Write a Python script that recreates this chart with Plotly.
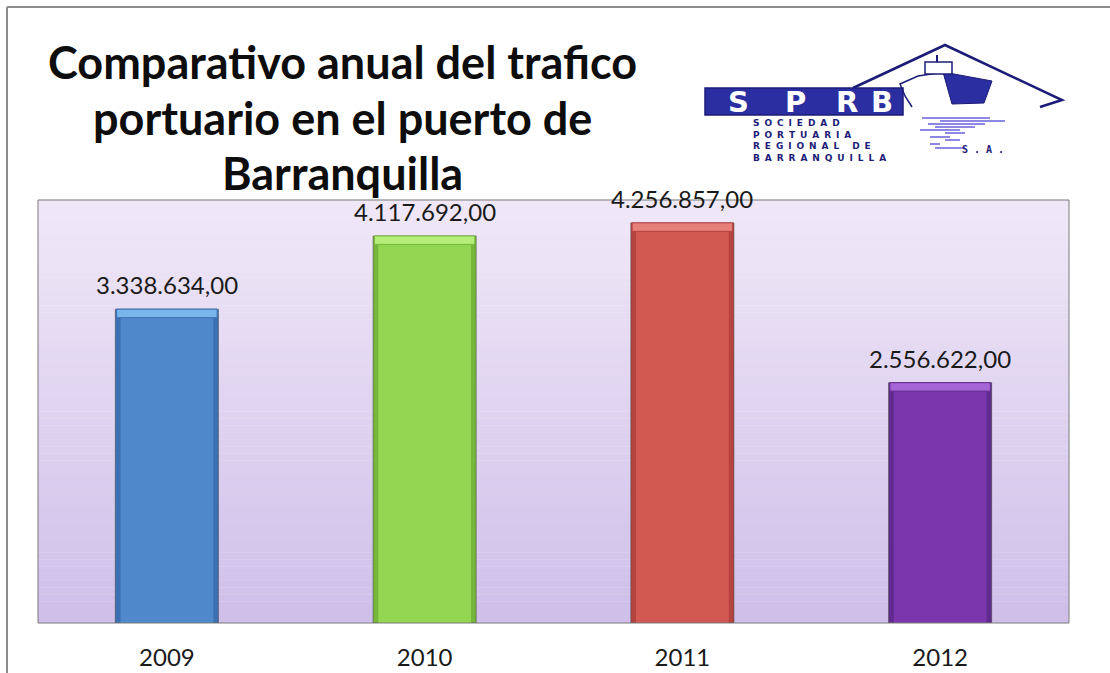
import plotly.graph_objects as go

# ---- data ----
years = ["2009", "2010", "2011", "2012"]
toneladas = [3338634.00, 4117692.00, 4256857.00, 2556622.00]

title_lines = ["Comparativo anual del trafico", "portuario en el puerto de", "Barranquilla"]
logo_lines = ["SOCIEDAD", "PORTUARIA", "REGIONAL DE", "BARRANQUILLA"]

# ---- styling ----
W, H = 1110, 673
edge_colors = ["#3d70b2", "#76b63a", "#b5433f", "#612a8e"]
main_colors = ["#4f89cc", "#93d651", "#d25852", "#7b36ad"]
cap_colors = ["#79b6ee", "#b6ee7c", "#e8807a", "#a565d6"]
y_max = 4.5e6
cap_h = 0.02 * y_max

# plot area in pixels
PX0, PX1, PY0, PY1 = 38, 1069, 200, 623


def fx(x):
    return x / W


def fy(y):
    return 1 - y / H


def fmt_es(v):
    s = f"{v:,.2f}"
    return s.replace(",", "X").replace(".", ",").replace("X", ".")


def mix(c1, c2, t):
    a = [int(c1[i:i + 2], 16) for i in (1, 3, 5)]
    b = [int(c2[i:i + 2], 16) for i in (1, 3, 5)]
    return "rgb({},{},{})".format(*[round(a[k] + (b[k] - a[k]) * t) for k in range(3)])


fig = go.Figure()

# outer edge layer of each bar
fig.add_trace(go.Bar(
    x=years, y=toneladas, width=0.40,
    marker=dict(color=edge_colors, line=dict(color="rgba(60,60,60,0.5)", width=1)),
    hoverinfo="skip", showlegend=False,
))
# inner body
fig.add_trace(go.Bar(
    x=years, y=[v - cap_h for v in toneladas], width=0.36,
    marker=dict(color=main_colors, line=dict(width=0)),
    hoverinfo="skip", showlegend=False,
))
# glossy top cap
fig.add_trace(go.Bar(
    x=years, y=[cap_h] * len(toneladas), base=[v - cap_h for v in toneladas], width=0.39,
    marker=dict(color=cap_colors, line=dict(color=edge_colors, width=1)),
    hoverinfo="skip", showlegend=False,
))

shapes = []
# vertical gradient for the plot background
n = 60
for i in range(n):
    y0 = PY0 + (PY1 - PY0) * i / n
    y1 = PY0 + (PY1 - PY0) * (i + 1) / n
    shapes.append(dict(type="rect", xref="paper", yref="paper",
                       x0=fx(PX0), x1=fx(PX1), y0=fy(y1), y1=fy(y0) + 0.0005,
                       fillcolor=mix("#f0e8f7", "#cfbfe9", i / (n - 1)),
                       line=dict(width=0), layer="below"))
# plot area border
shapes.append(dict(type="rect", xref="paper", yref="paper",
                   x0=fx(PX0), x1=fx(PX1), y0=fy(PY1), y1=fy(PY0),
                   line=dict(color="#7a7a7a", width=1), layer="above"))
# outer frame (top and left)
shapes.append(dict(type="line", xref="paper", yref="paper",
                   x0=fx(7), x1=1, y0=fy(7), y1=fy(7),
                   line=dict(color="#8c8c8c", width=2)))
shapes.append(dict(type="line", xref="paper", yref="paper",
                   x0=fx(7), x1=fx(7), y0=fy(7), y1=0,
                   line=dict(color="#8c8c8c", width=2)))


def path(points, close=False):
    s = "M " + " L ".join(f"{fx(x)},{fy(y)}" for x, y in points)
    return s + (" Z" if close else "")


navy = "#1c1c78"
logo_blue = "#2a2ea0"
wave = "#8d88e4"

# logo: triangle roof
shapes.append(dict(type="path", xref="paper", yref="paper",
                   path=path([(853, 88), (945, 45), (1062, 100), (1040, 107)]),
                   line=dict(color=navy, width=2.5)))
# logo: blue band behind the letters
shapes.append(dict(type="rect", xref="paper", yref="paper",
                   x0=fx(705), x1=fx(903), y0=fy(115), y1=fy(88),
                   fillcolor=logo_blue, line=dict(color=navy, width=1.5)))
# logo: ship bow outline
shapes.append(dict(type="path", xref="paper", yref="paper",
                   path=path([(945, 72), (918, 76), (900, 84), (905, 96), (912, 107)]),
                   line=dict(color=navy, width=1.5)))
# logo: hull
shapes.append(dict(type="path", xref="paper", yref="paper",
                   path=path([(943, 72), (992, 81), (984, 103), (952, 104), (948, 90)], close=True),
                   fillcolor=logo_blue, line=dict(color=navy, width=1)))
# logo: mast / bridge
shapes.append(dict(type="rect", xref="paper", yref="paper",
                   x0=fx(925), x1=fx(952), y0=fy(74), y1=fy(62),
                   fillcolor="white", line=dict(color=navy, width=1.5)))
shapes.append(dict(type="line", xref="paper", yref="paper",
                   x0=fx(937), x1=fx(937), y0=fy(62), y1=fy(55),
                   line=dict(color=navy, width=2)))
# logo: water lines
waves = [(862, 118, 990), (880, 121, 1005), (868, 124, 985), (875, 127, 975),
         (860, 130, 960), (885, 133, 965), (870, 137, 950), (900, 140, 945),
         (880, 144, 930), (905, 148, 935)]
for x0, y, x1 in waves:
    shapes.append(dict(type="line", xref="paper", yref="paper",
                       x0=fx(x0 + 60), x1=fx(x1), y0=fy(y), y1=fy(y),
                       line=dict(color=wave, width=2)))

annotations = []
# title
for line, yc in zip(title_lines, [62, 118, 173]):
    annotations.append(dict(text=f"<b>{line}</b>", xref="paper", yref="paper",
                            x=fx(342), y=fy(yc), xanchor="center", yanchor="middle",
                            showarrow=False, borderpad=0,
                            font=dict(family="Lato", size=45, color="#0d0d0d")))
# logo letters
for ch, xc in zip("SPRB", [738, 795, 847, 882]):
    annotations.append(dict(text=f"<b>{ch}</b>", xref="paper", yref="paper",
                            x=fx(xc), y=fy(101.5), xanchor="center", yanchor="middle",
                            showarrow=False, borderpad=0,
                            font=dict(family="DejaVu Sans", size=29, color="white")))
# logo company name, letter-spaced block
logo_text = "<br>".join("<b>" + " \u2009".join(line) + "</b>" for line in logo_lines)
annotations.append(dict(text=logo_text, xref="paper", yref="paper",
                        x=fx(752), y=fy(117), xanchor="left", yanchor="top",
                        align="left", showarrow=False, borderpad=0,
                        font=dict(family="DejaVu Sans", size=9, color=navy)))
annotations.append(dict(text="<b>S . A .</b>", xref="paper", yref="paper",
                        x=fx(960), y=fy(149), xanchor="left", yanchor="middle",
                        showarrow=False,
                        font=dict(family="DejaVu Sans Mono", size=10, color=navy)))
# value labels above the bars
for i, v in enumerate(toneladas):
    annotations.append(dict(text=fmt_es(v), x=i, y=v, xref="x", yref="y",
                            xanchor="center", yanchor="bottom", yshift=9,
                            showarrow=False, borderpad=0,
                            font=dict(family="Lato", size=24, color="#1a1a1a")))

fig.update_layout(
    width=W, height=H,
    margin=dict(l=0, r=0, t=0, b=0, pad=0),
    paper_bgcolor="white",
    plot_bgcolor="rgba(0,0,0,0)",
    barmode="overlay",
    bargap=0.6,
    showlegend=False,
    xaxis=dict(type="category", domain=[fx(PX0), fx(PX1)], range=[-0.5, 3.5],
               showgrid=False, zeroline=False, showline=False, ticks="",
               ticklabelstandoff=18,
               tickfont=dict(family="Lato", size=24, color="#1a1a1a")),
    yaxis=dict(domain=[fy(PY1), fy(PY0)], range=[0, y_max], visible=False),
    shapes=shapes,
    annotations=annotations,
)

fig.write_html("out.html")
